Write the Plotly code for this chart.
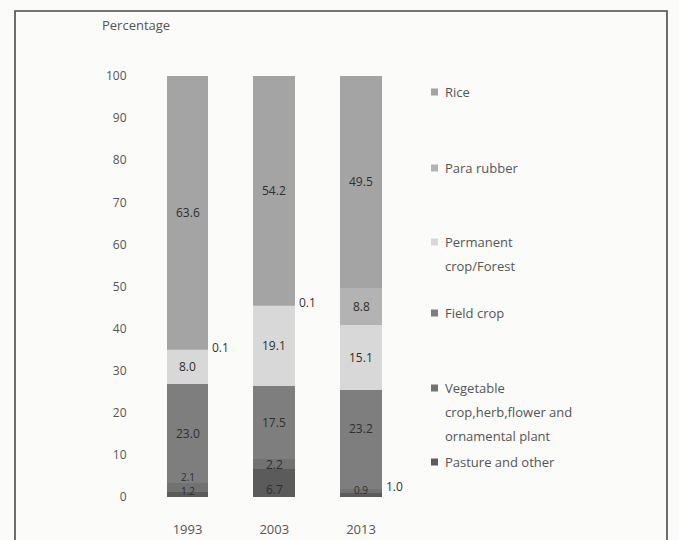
import plotly.graph_objects as go

# ---------------- data ----------------
years = ["1993", "2003", "2013"]
pasture = [1.2, 6.7, 0.9]
vegetable = [2.1, 2.2, 1.0]
field_crop = [23.0, 17.5, 23.2]
permanent = [8.0, 19.1, 15.1]
para_rubber = [0.1, 0.1, 8.8]
rice = [63.6, 54.2, 49.5]
y_ticks = [0, 10, 20, 30, 40, 50, 60, 70, 80, 90, 100]

series = [  # bottom to top
    ("Pasture and other", pasture, "#5b5b5b"),
    ("Vegetable crop,herb,flower and ornamental plant", vegetable, "#727272"),
    ("Field crop", field_crop, "#7e7e7e"),
    ("Permanent crop/Forest", permanent, "#d8d8d8"),
    ("Para rubber", para_rubber, "#b3b3b3"),
    ("Rice", rice, "#a4a4a4"),
]
legend_lines = {
    "Rice": ["Rice"],
    "Para rubber": ["Para rubber"],
    "Permanent crop/Forest": ["Permanent", "crop/Forest"],
    "Field crop": ["Field crop"],
    "Vegetable crop,herb,flower and ornamental plant": ["Vegetable", "crop,herb,flower and", "ornamental plant"],
    "Pasture and other": ["Pasture and other"],
}

# ---------------- layout geometry ----------------
W_FIG, H_FIG = 679, 540
L, R, T, B = 140, 410, 76, 497
PW, PH = R - L, B - T
FONT = "Open Sans, Noto Sans, sans-serif"
GREY = "#555555"


def px(xp):
    return (xp - L) / PW


def py(yp):
    return (B - yp) / PH


fig = go.Figure()
for name, vals, color in series:
    fig.add_trace(go.Bar(
        x=years, y=vals, name=name, marker=dict(color=color, line=dict(width=0)),
        showlegend=False, hovertemplate="%{x}: %{y}<extra>" + name + "</extra>",
    ))

# ---------------- data labels ----------------
outside = {("Para rubber", "1993"), ("Para rubber", "2003"),
           ("Vegetable crop,herb,flower and ornamental plant", "2013")}
nudge = {("Pasture and other", "1993"): 3,
         ("Vegetable crop,herb,flower and ornamental plant", "1993"): 10,
         ("Pasture and other", "2003"): -7,
         ("Pasture and other", "2013"): 5,
         ("Field crop", "2013"): 11}
small = {("Pasture and other", "1993"), ("Vegetable crop,herb,flower and ornamental plant", "1993"),
         ("Pasture and other", "2013")}

annotations = []
for i, yr in enumerate(years):
    total = sum(s[1][i] for s in series)
    base = 0.0
    for name, vals, color in series:
        v = vals[i] / total * 100
        top = base + v
        fsize = 10 if (name, yr) in small else 12
        if (name, yr) in outside:
            annotations.append(dict(x=i, y=top, xref="x", yref="y", text=f"{vals[i]:.1f}",
                                    showarrow=False, xshift=33, yshift=2,
                                    font=dict(family=FONT, size=12, color="#333333")))
        else:
            annotations.append(dict(x=i, y=(base + top) / 2, xref="x", yref="y",
                                    text=f"{vals[i]:.1f}", showarrow=False,
                                    yshift=nudge.get((name, yr), 0),
                                    font=dict(family=FONT, size=fsize, color="#2e2e2e")))
        base = top

# ---------------- custom legend ----------------
legend_y = {"Rice": 92, "Para rubber": 168, "Permanent crop/Forest": 242,
            "Field crop": 313, "Vegetable crop,herb,flower and ornamental plant": 388,
            "Pasture and other": 462}
shapes = []
for name, vals, color in series:
    y0 = legend_y[name]
    shapes.append(dict(type="rect", xref="paper", yref="paper",
                       x0=px(431), x1=px(438), y0=py(y0 + 3.5), y1=py(y0 - 3.5),
                       fillcolor=color, line=dict(width=0)))
    for k, line in enumerate(legend_lines[name]):
        annotations.append(dict(x=px(443), y=py(y0 + 24 * k), xref="paper", yref="paper",
                                xanchor="left", yanchor="middle", text=line, showarrow=False,
                                font=dict(family=FONT, size=13, color=GREY)))

# axis title
annotations.append(dict(x=px(136), y=py(25), xref="paper", yref="paper", text="Percentage",
                        showarrow=False, xanchor="center", yanchor="middle",
                        font=dict(family=FONT, size=13, color=GREY)))

# outer frame
shapes.append(dict(type="rect", xref="paper", yref="paper",
                   x0=px(15), x1=px(667), y0=py(570), y1=py(11),
                   line=dict(color="#4a4a4a", width=1.6), fillcolor="rgba(0,0,0,0)", layer="below"))

fig.update_layout(
    width=W_FIG, height=H_FIG,
    margin=dict(l=L, r=W_FIG - R, t=T, b=H_FIG - B, pad=0),
    barmode="stack", barnorm="percent", bargap=0.52,
    paper_bgcolor="#fbfbfa", plot_bgcolor="rgba(0,0,0,0)",
    font=dict(family=FONT, color=GREY),
    annotations=annotations, shapes=shapes,
    xaxis=dict(type="category", range=[-(187.5 - L) / 86.75, (R - 187.5) / 86.75],
               showgrid=False, showline=False, zeroline=False, automargin=False,
               ticks="outside", ticklen=20, tickcolor="rgba(0,0,0,0)",
               tickfont=dict(family=FONT, size=13, color=GREY)),
    yaxis=dict(range=[0, 100], tickvals=y_ticks, showgrid=False, showline=False,
               zeroline=False, automargin=False, ticks="outside", ticklen=10,
               tickcolor="rgba(0,0,0,0)",
               tickfont=dict(family=FONT, size=12, color=GREY)),
    hovermode="closest",
)

fig.write_html("out.html", config={"displayModeBar": False},
               post_script="document.body.style.margin='0';document.body.style.overflow='hidden';")
